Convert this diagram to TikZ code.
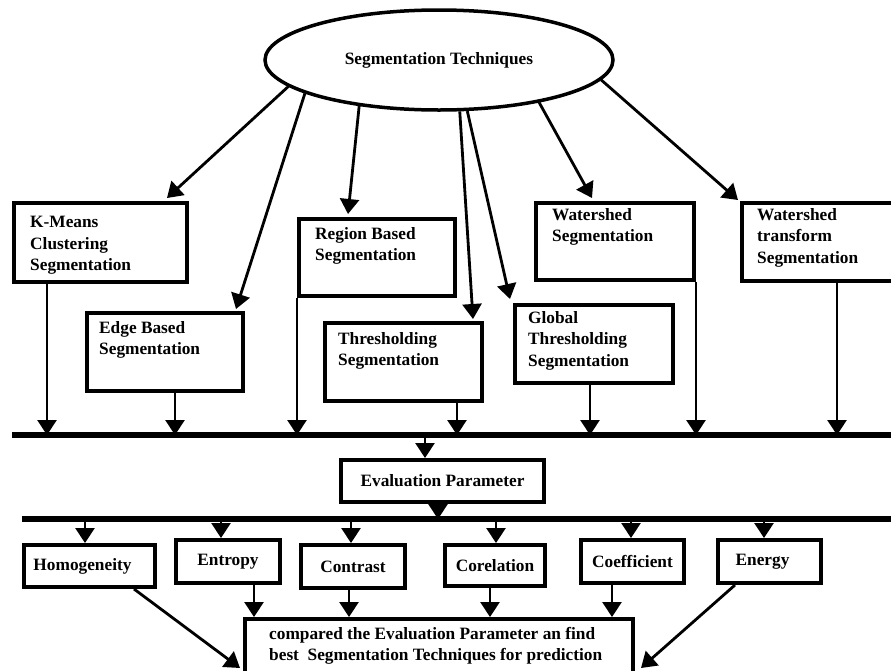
\documentclass[tikz,border=0pt]{standalone}
\usepackage{fontspec}
\setmainfont{Liberation Serif}
\usetikzlibrary{arrows.meta,shapes.geometric,calc}
\begin{document}
\begin{tikzpicture}[x=1pt,y=-1pt,
  every node/.style={font=\fontsize{17.3}{21.5}\selectfont\bfseries},
  box/.style={draw, line width=4pt, anchor=north west, inner sep=0pt},
  txt/.style={anchor=north west, inner sep=0pt, align=left},
  arr/.style={line width=2.8pt, -{Triangle[width=19pt,length=15pt]}},
  bus/.style={line width=5.5pt},
]
\useasboundingbox (0,0) rectangle (891,670);
\clip (0,0) rectangle (891,670);

% top ellipse
\node[ellipse, draw, line width=3.5pt, minimum width=348pt, minimum height=100pt] (st) at (439,60) {Segmentation Techniques};

% technique boxes
\node[box, minimum width=173pt, minimum height=79pt] (km) at (12,201) {};
\node[txt] (kmt) at (30,216) {K-Means\\Clustering\\Segmentation};
\node[box, minimum width=156pt, minimum height=78pt] (eb) at (85,311) {};
\node[txt] (ebt) at (99,321) {Edge Based\\Segmentation};
\node[box, minimum width=156pt, minimum height=77pt] (rb) at (297,217) {};
\node[txt] (rbt) at (315,227) {Region Based\\Segmentation};
\node[box, minimum width=157pt, minimum height=78pt] (th) at (323,321) {};
\node[txt] (tht) at (338,332) {Thresholding\\Segmentation};
\node[box, minimum width=158pt, minimum height=78pt] (gt) at (513,303) {};
\node[txt] (gtt) at (528,311) {Global\\Thresholding\\Segmentation};
\node[box, minimum width=158pt, minimum height=77pt] (ws) at (534,201) {};
\node[txt] (wst) at (552,208) {Watershed\\Segmentation};
\node[box, minimum width=160pt, minimum height=78pt] (wt) at (740,201) {};
\node[txt] (wtt) at (757,208) {Watershed\\transform\\Segmentation};

% arrows from ellipse
\draw[arr] (st.190.5) -- ($(km.north east)+(-22,-3)$);
\draw[arr] (st.194) -- ($(eb.north east)+(-9,-2)$);
\draw[arr] (st.210.6) -- ($(rb.north west)+(51,-3)$);
\draw[arr] (st.292.8) -- ($(th.north east)+(-11,-2)$);
\draw[arr] (st.299.6) -- ($(gt.north west)+(-3,-4)$);
\draw[arr] (st.337.5) -- ($(ws.north west)+(58,-3)$);
\draw[arr] (st.353.8) -- ($(wt.north west)+(-2,-1)$);

% first bus
\coordinate (b1l) at (12,435);
\coordinate (b1r) at (891,435);
\draw[bus] (b1l) -- (b1r);
\draw[arr] ($(km.south west)+(35,0)$) coordinate (k1) -- (k1 |- b1l);
\draw[arr] ($(eb.south west)+(90,0)$) coordinate (e1) -- (e1 |- b1l);
\draw[arr] (rb.south west) -- (rb.south west |- b1l);
\draw[arr] ($(th.south east)+(-27,0)$) coordinate (t1) -- (t1 |- b1l);
\draw[arr] ($(gt.south west)+(77,0)$) coordinate (g1) -- (g1 |- b1l);
\draw[arr] (ws.south east) -- (ws.south east |- b1l);
\draw[arr] ($(wt.south west)+(97,0)$) coordinate (w1) -- (w1 |- b1l);

% evaluation parameter
\node[box, minimum width=203pt, minimum height=42pt, inner sep=0pt] (ev) at (339,458) {Evaluation Parameter};
\coordinate (ev1) at (425,435);
\draw[arr] (ev1) -- (ev1 |- ev.north);

% second bus
\coordinate (b2l) at (22,519);
\coordinate (b2r) at (891,519);
\draw[bus] (b2l) -- (b2r);
\draw[arr] ($(ev.south west)+(99,0)$) coordinate (ev2) -- (ev2 |- b2l);

% parameter boxes
\node[box, minimum width=131pt, minimum height=42pt] (ho) at (22,543) {Homogeneity\hspace*{14pt}};
\node[box, minimum width=104pt, minimum height=43pt] (en) at (174,538) {Entropy};
\node[box, minimum width=104pt, minimum height=43pt] (co) at (299,543) {Contrast};
\node[box, minimum width=100pt, minimum height=41pt] (cr) at (443,543) {Corelation};
\node[box, minimum width=103pt, minimum height=43pt] (cf) at (579,538) {Coefficient};
\node[box, minimum width=103pt, minimum height=43pt] (eg) at (716,538) {Energy\hspace*{14pt}\raisebox{5pt}{}};

\coordinate (p1) at (85,519);
\coordinate (p2) at (221,519);
\coordinate (p3) at (351,519);
\coordinate (p4) at (496,519);
\coordinate (p5) at (631,519);
\coordinate (p6) at (764,519);
\draw[arr] (p1) -- (p1 |- ho.north);
\draw[arr] (p2) -- (p2 |- en.north);
\draw[arr] (p3) -- (p3 |- co.north);
\draw[arr] (p4) -- (p4 |- cr.north);
\draw[arr] (p5) -- (p5 |- cf.north);
\draw[arr] (p6) -- (p6 |- eg.north);

% final box
\node[box, minimum width=388pt, minimum height=80pt] (fb) at (243,617) {};
\node[txt, align=left] (fbt) at (269,627) {compared the Evaluation Parameter an find\\best\ \ Segmentation Techniques for prediction};

\draw[arr] ($(en.south west)+(80,0)$) coordinate (q2) -- (q2 |- fb.north);
\draw[arr] ($(co.south west)+(50,0)$) coordinate (q3) -- (q3 |- fb.north);
\draw[arr] ($(cr.south west)+(47,0)$) coordinate (q4) -- (q4 |- fb.north);
\draw[arr] ($(cf.south west)+(33,0)$) coordinate (q5) -- (q5 |- fb.north);
\draw[arr] ($(ho.south east)+(-23,0)$) -- ($(fb.north west)+(-3,51)$);
\draw[arr] ($(eg.south west)+(19,0)$) -- ($(fb.north east)+(6,51)$);
\end{tikzpicture}
\end{document}
